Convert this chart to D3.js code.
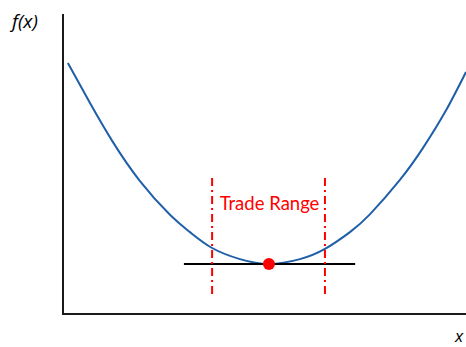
<!DOCTYPE html>
<html>
<head>
<meta charset="utf-8">
<script src="https://cdn.jsdelivr.net/npm/d3@7"></script>
<style>
  html, body { margin: 0; padding: 0; background: #fff; }
  svg { display: block; }
</style>
</head>
<body>
<script>
// Curve samples (x: 0..100 along the axis, y: 0..100 up the axis)
const curveX = [1.2, 6.7, 12.2, 19.1, 26.6, 31.5, 37.0, 43.9, 51.1, 58.8, 65.0, 71.2, 76.2, 83.6, 89.3, 94.8, 100];
const curveY = [83.7, 70.3, 57.7, 44.3, 33.0, 27.3, 22.0, 18.3, 16.7, 18.3, 21.7, 27.3, 33.3, 44.7, 55.3, 67.3, 80.7];
const minPoint = [51.1, 16.7];
const tangentX = [30.0, 72.5];
const rangeX = [37.0, 65.0];
const rangeY = [6.0, 45.3];
const rangeLabel = "Trade Range";
const yLabel = "f(x)";
const xLabel = "x";

const W = 466, H = 347;
const svg = d3.select("body").append("svg").attr("width", W).attr("height", H);

const x = d3.scaleLinear().domain([0, 100]).range([63, 466]);
const y = d3.scaleLinear().domain([0, 100]).range([314, 14]);

// axes
svg.append("line").attr("x1", x(0)).attr("x2", x(0)).attr("y1", y(100)).attr("y2", y(0))
  .attr("stroke", "#1a1a1a").attr("stroke-width", 2);
svg.append("line").attr("x1", x(0) - 1).attr("x2", x(100)).attr("y1", y(0)).attr("y2", y(0))
  .attr("stroke", "#1a1a1a").attr("stroke-width", 2);

// curve
const pts = curveX.map((d, i) => [d, curveY[i]]);
svg.append("path").datum(pts)
  .attr("d", d3.line().x(d => x(d[0])).y(d => y(d[1])).curve(d3.curveNatural))
  .attr("fill", "none").attr("stroke", "#1f5fa8").attr("stroke-width", 2);

// tangent line
svg.append("line").attr("x1", x(tangentX[0])).attr("x2", x(tangentX[1]))
  .attr("y1", y(minPoint[1])).attr("y2", y(minPoint[1]))
  .attr("stroke", "#000").attr("stroke-width", 2);

// range lines
rangeX.forEach(v => {
  svg.append("line").attr("x1", x(v)).attr("x2", x(v))
    .attr("y1", y(rangeY[1])).attr("y2", y(rangeY[0]))
    .attr("stroke", "#ff0000").attr("stroke-width", 2)
    .attr("stroke-dasharray", "8,4,2,4");
});

// min point
svg.append("circle").attr("cx", x(minPoint[0])).attr("cy", y(minPoint[1])).attr("r", 6)
  .attr("fill", "#ff0000");

// texts
svg.append("text").attr("x", (x(rangeX[0]) + x(rangeX[1])) / 2 + 1).attr("y", 210)
  .attr("text-anchor", "middle").attr("font-family", "Lato, 'Open Sans', sans-serif")
  .attr("font-size", 18.5).attr("fill", "#ff0000").text(rangeLabel);

svg.append("text").attr("x", 12).attr("y", 28)
  .attr("font-family", "'Open Sans', Lato, sans-serif").attr("font-style", "italic")
  .attr("font-size", 19).attr("fill", "#000").text(yLabel);

svg.append("text").attr("x", 455).attr("y", 342)
  .attr("font-family", "'Open Sans', Lato, sans-serif").attr("font-style", "italic")
  .attr("font-size", 17).attr("fill", "#000").text(xLabel);
</script>
</body>
</html>
